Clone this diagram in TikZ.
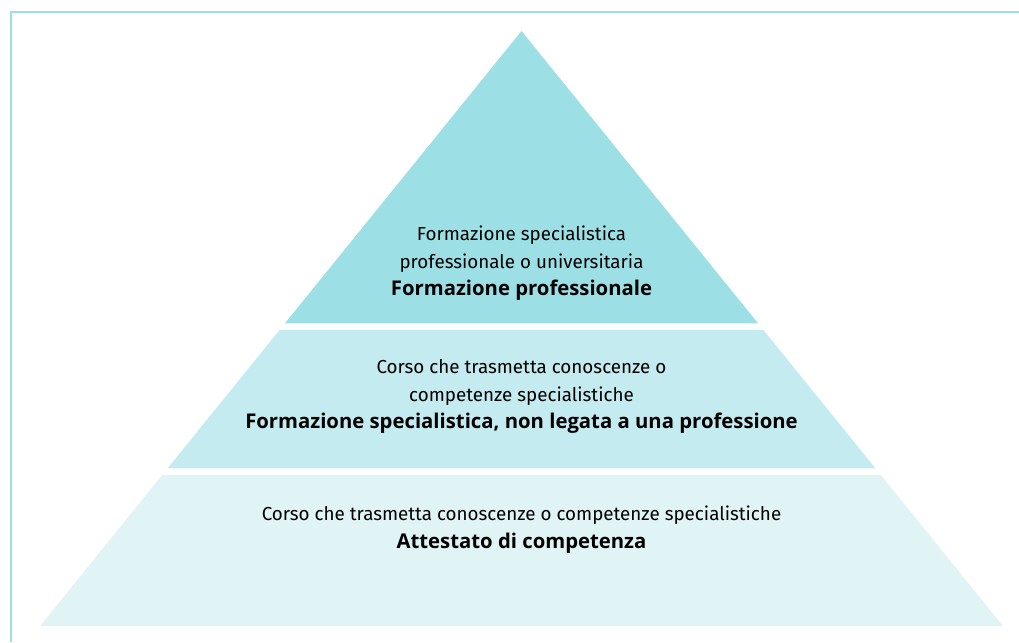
\documentclass[tikz,border=0pt]{standalone}
\usepackage{fontspec}
\setmainfont{Fira Sans}[BoldFont={Open Sans Bold}]
\usepackage{xcolor}
\usetikzlibrary{calc}

\definecolor{tiertop}{HTML}{9CE0E6}
\definecolor{tiermid}{HTML}{C4EBEF}
\definecolor{tierlow}{HTML}{E0F4F6}
\definecolor{frameline}{HTML}{9BE0E6}
\newcommand{\tierhead}[1]{{\fontsize{20.3}{27.5}\selectfont\bfseries #1}}

\begin{document}
\begin{tikzpicture}[
    x=1pt, y=-1pt,
    label/.style={align=center, inner sep=0pt, font=\fontsize{18.8}{27.5}\selectfont, text=black}
]
\useasboundingbox (0,0) rectangle (1019,642);
% frame
\draw[frameline, line width=2.3pt] (1019,12.2) -- (11.3,12.2) -- (11.3,642);
% pyramid
\coordinate (apex) at (521.5,31);
\coordinate (bl) at (40,626);
\coordinate (br) at (1003,626);
\fill[tiertop] (apex) -- ($(apex)!0.4913!(br)$) -- ($(apex)!0.4913!(bl)$) -- cycle;
\fill[tiermid] ($(apex)!0.5025!(bl)$) -- ($(apex)!0.5025!(br)$) -- ($(apex)!0.735!(br)$) -- ($(apex)!0.735!(bl)$) -- cycle;
\fill[tierlow] ($(apex)!0.7462!(bl)$) -- ($(apex)!0.7462!(br)$) -- (br) -- (bl) -- cycle;
% texts
\node[label] (top) at (521.5,263.5) {Formazione specialistica\\professionale o universitaria\\\tierhead{Formazione professionale}};
\node[label] (mid) at (521.5,396.5) {Corso che trasmetta conoscenze o\\competenze specialistiche\\\tierhead{Formazione specialistica, non legata a una professione}};
\node[label] (low) at (521.5,529.5) {Corso che trasmetta conoscenze o competenze specialistiche\\\tierhead{Attestato di competenza}};
\end{tikzpicture}
\end{document}
